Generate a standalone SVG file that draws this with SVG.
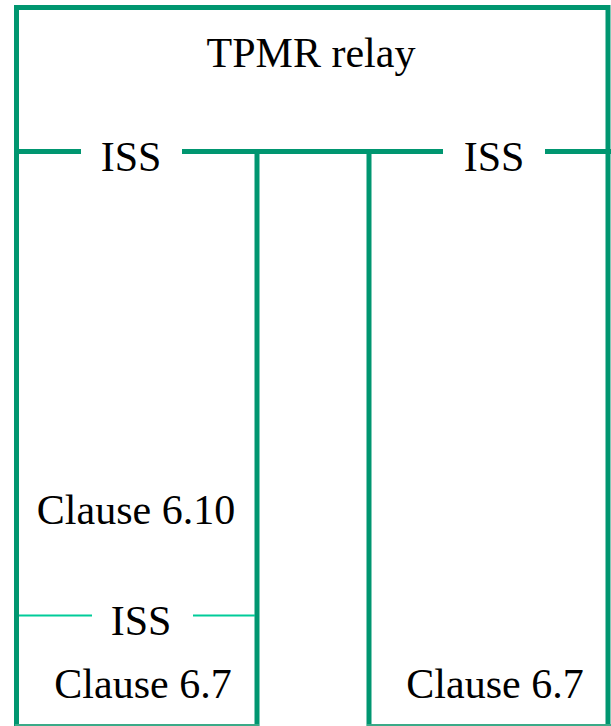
<svg xmlns="http://www.w3.org/2000/svg" width="611" height="726" viewBox="0 0 611 726">
<style>
.t{font-size:42px;fill:#000;text-anchor:middle}
.ln{stroke:#009670;stroke-width:5;fill:none}
.thin{stroke:#00cc99;stroke-width:2;fill:none}
.edge{stroke:#3aaa88;stroke-width:2;fill:none}
</style>
<rect width="611" height="726" fill="#fff"/>
<g id="connectors">
<path class="ln" d="M16.5 726 V7.5 H608 V726"/>
<path class="ln" d="M14 151.5 H81 M182 151.5 H443 M545 151.5 H611"/>
<path class="ln" d="M257 151.5 V726 M369 151.5 V726"/>
<path class="thin" d="M19 615.5 H92 M193 615.5 H255"/>
<path class="edge" d="M15 725 H259 M367 725 H611"/>
</g>
<g font-family="'Liberation Serif', 'Times New Roman', 'DejaVu Serif', serif">
<g id="tpmr-relay"><text class="t" x="311" y="67">TPMR relay</text></g>
<g id="iss-left"><text class="t" x="131" y="171">ISS</text></g>
<g id="iss-right"><text class="t" x="494" y="171">ISS</text></g>
<g id="clause-610"><text class="t" x="136" y="524">Clause 6.10</text></g>
<g id="iss-bottom"><text class="t" x="141" y="635">ISS</text></g>
<g id="clause-67-left"><text class="t" x="143" y="698">Clause 6.7</text></g>
<g id="clause-67-right"><text class="t" x="495" y="698">Clause 6.7</text></g>
</g>
</svg>
